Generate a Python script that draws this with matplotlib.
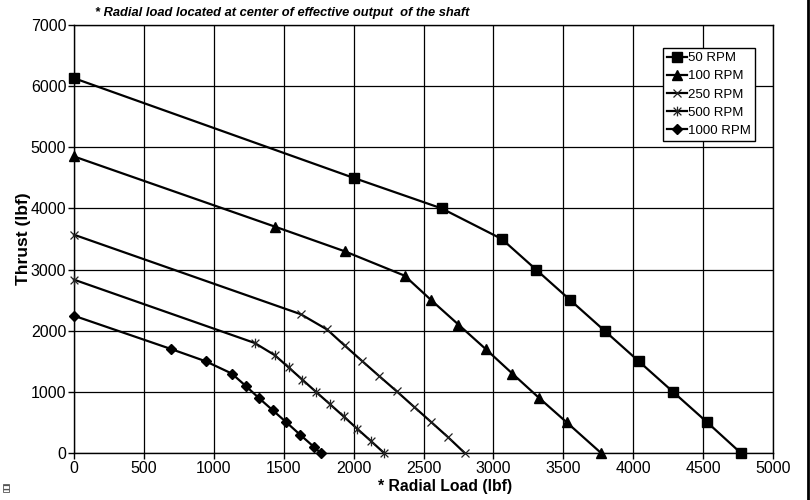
import numpy as np
import matplotlib
matplotlib.use("Agg")
import matplotlib.pyplot as plt
from matplotlib.path import Path
from matplotlib.lines import Line2D
from matplotlib.patches import Rectangle

plt.rcParams['font.family'] = ['Liberation Sans', 'DejaVu Sans']

# 数据
load_50 = [0, 2000, 2630, 3060, 3305, 3550, 3795, 4040, 4285, 4530, 4770]
thrust_50 = [6130, 4500, 4000, 3500, 3000, 2500, 2000, 1500, 1000, 500, 0]

load_100 = [0, 1440, 1935, 2365, 2555, 2750, 2945, 3135, 3327, 3525, 3770]
thrust_100 = [4850, 3700, 3300, 2900, 2500, 2100, 1700, 1300, 900, 500, 0]

load_250 = [0, 1622, 1810, 1935, 2058, 2182, 2308, 2430, 2553, 2675, 2795]
thrust_250 = [3570, 2270, 2020, 1760, 1510, 1260, 1010, 760, 510, 260, 0]

load_500 = [0, 1292, 1436, 1535, 1633, 1731, 1830, 1928, 2024, 2122, 2218]
thrust_500 = [2835, 1800, 1600, 1400, 1200, 1000, 800, 600, 400, 200, 0]

load_1000 = [0, 695, 942, 1128, 1227, 1322, 1421, 1520, 1617, 1716, 1764]
thrust_1000 = [2245, 1700, 1500, 1300, 1100, 900, 700, 500, 300, 100, 0]

labels = ["50 RPM", "100 RPM", "250 RPM", "500 RPM", "1000 RPM"]
x_ticks = [0, 500, 1000, 1500, 2000, 2500, 3000, 3500, 4000, 4500, 5000]
y_ticks = [0, 1000, 2000, 3000, 4000, 5000, 6000, 7000]

# Excel 风格的星形标记: x 加竖线
star = Path([(-1, -1), (1, 1), (-1, 1), (1, -1), (0, -1.25), (0, 1.25)],
            [Path.MOVETO, Path.LINETO, Path.MOVETO, Path.LINETO, Path.MOVETO, Path.LINETO])

series = [
    (load_50, thrust_50, dict(marker='s', markersize=7)),
    (load_100, thrust_100, dict(marker='^', markersize=7)),
    (load_250, thrust_250, dict(marker='x', markersize=6, markeredgewidth=0.9, markeredgecolor='#222222')),
    (load_500, thrust_500, dict(marker=star, markersize=7, markeredgewidth=0.9, markeredgecolor='#222222')),
    (load_1000, thrust_1000, dict(marker='D', markersize=5.5)),
]

fig = plt.figure(figsize=(8.1, 5.0), dpi=100)
ax = fig.add_axes([74 / 810, 1 - 453 / 500, 699 / 810, 428 / 500])

for (x, y, style), lab in zip(series, labels):
    ax.plot(x, y, color='black', linewidth=1.6, label=lab, clip_on=False, zorder=3, **style)

ax.set_xlim(0, 5000)
ax.set_ylim(0, 7000)
ax.set_xticks(x_ticks)
ax.set_yticks(y_ticks)
ax.tick_params(axis='both', labelsize=11.5, direction='out', length=4, width=1, color='black', pad=1.5)
ax.grid(True, color='black', linewidth=0.9)
ax.set_axisbelow(True)
for s in ax.spines.values():
    s.set_linewidth(1)
    s.set_color('black')

ax.set_ylabel("Thrust (lbf)", fontsize=12.5, fontweight='bold', labelpad=0)
fig.text(445 / 810, 1 - 487 / 500, "* Radial Load (lbf)", fontsize=11.3, fontweight='bold',
         ha='center', va='center')

fig.text(95 / 810, 1 - 13 / 500, "* Radial load located at center of effective output  of the shaft",
         fontsize=9.3, fontweight='bold', fontstyle='italic', va='center', ha='left')

leg = ax.legend(loc='upper right', bbox_to_anchor=(755 / 810, 1 - 48 / 500),
                bbox_transform=fig.transFigure, fontsize=9.5, frameon=True, fancybox=False,
                edgecolor='black', framealpha=1, handlelength=1.5, handletextpad=0.1,
                labelspacing=0.45, borderpad=0.3, borderaxespad=0)
leg.get_frame().set_linewidth(1)

# 右侧图框线
fig.add_artist(Line2D([807.5 / 810, 807.5 / 810], [0, 1], color='black', linewidth=2, transform=fig.transFigure))
# 左下角小图标
fig.add_artist(Rectangle((3 / 810, 8 / 500), 6 / 810, 8 / 500, transform=fig.transFigure,
                         facecolor='white', edgecolor='#555555', hatch='----', linewidth=0.6))

fig.savefig("out.png", dpi=100)
